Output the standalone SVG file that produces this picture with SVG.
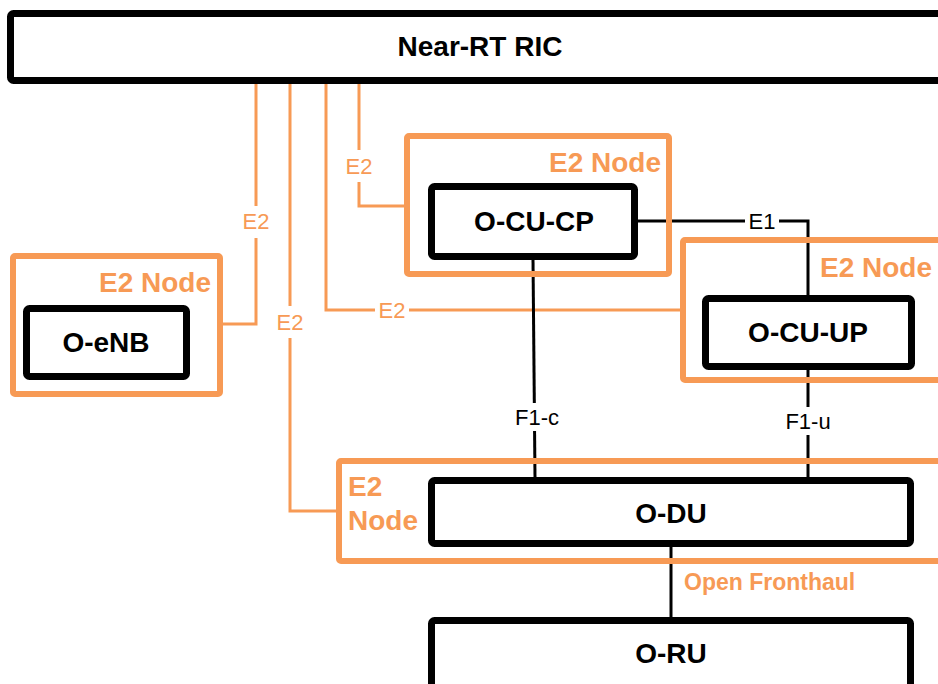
<svg xmlns="http://www.w3.org/2000/svg" width="938" height="684" viewBox="0 0 938 684">
<style>
.blk{fill:#fff;stroke:#000;stroke-width:7}
.org{fill:none;stroke:#F79A55;stroke-width:6}
.ol{fill:none;stroke:#F79A55;stroke-width:3}
.bl{fill:none;stroke:#000;stroke-width:3}
.t{font-family:"Liberation Sans",Arial,sans-serif;font-weight:bold;font-size:28px;fill:#000;text-anchor:middle}
.n{font-family:"Liberation Sans",Arial,sans-serif;font-weight:bold;font-size:28px;fill:#F79A55}
.e{font-family:"Liberation Sans",Arial,sans-serif;font-size:22px;fill:#F79A55;text-anchor:middle}
.k{font-family:"Liberation Sans",Arial,sans-serif;font-size:22px;fill:#000;text-anchor:middle}
.bg{fill:#fff}
</style>
<rect width="938" height="684" fill="#fff"/>
<g id="connectors">
<polyline class="ol" points="256,82 256,324 222,324"/>
<polyline class="ol" points="290,82 290,511 337,511"/>
<polyline class="ol" points="326,82 326,310 683,310"/>
<polyline class="ol" points="359,82 359,206 406,206"/>
<polyline class="bl" points="638,221 808,221 808,295"/>
<line class="bl" x1="533" y1="259" x2="535" y2="478"/>
<line class="bl" x1="808" y1="370" x2="808" y2="478"/>
<line class="bl" x1="671" y1="547" x2="671" y2="617"/>
<rect class="bg" x="240" y="206" width="32" height="32"/>
<text class="e" x="256" y="229">E2</text>
<rect class="bg" x="274" y="306" width="32" height="32"/>
<text class="e" x="290" y="330">E2</text>
<rect class="bg" x="375" y="298" width="34" height="24"/>
<text class="e" x="392" y="318">E2</text>
<rect class="bg" x="343" y="150" width="32" height="32"/>
<text class="e" x="359" y="174">E2</text>
<rect class="bg" x="745" y="210" width="34" height="22"/>
<text class="k" x="762" y="229">E1</text>
<rect class="bg" x="510" y="403" width="54" height="28"/>
<text class="k" x="537" y="425">F1-c</text>
<rect class="bg" x="780" y="407" width="56" height="28"/>
<text class="k" x="808" y="429">F1-u</text>
<text class="n" x="684" y="590" style="font-size:23px">Open Fronthaul</text>
</g>
<g id="ric">
<rect class="blk" x="10.5" y="13.5" width="940" height="67" rx="3"/>
<text class="t" x="480" y="56">Near-RT RIC</text>
</g>
<g id="e2node-enb">
<rect class="org" x="13" y="256" width="207" height="138" rx="2"/>
<text class="n" x="211" y="292" text-anchor="end">E2 Node</text>
</g>
<g id="o-enb">
<rect class="blk" x="26.5" y="308.5" width="160" height="68" rx="3"/>
<text class="t" x="106" y="352">O-eNB</text>
</g>
<g id="e2node-cucp">
<rect class="org" x="407" y="136" width="262" height="138" rx="2"/>
<text class="n" x="661" y="172" text-anchor="end">E2 Node</text>
</g>
<g id="o-cu-cp">
<rect class="blk" x="431.5" y="186.5" width="203" height="70" rx="3"/>
<text class="t" x="534" y="231">O-CU-CP</text>
</g>
<g id="e2node-cuup">
<rect class="org" x="683" y="240" width="270" height="140" rx="2"/>
<text class="n" x="820" y="277">E2 Node</text>
</g>
<g id="o-cu-up">
<rect class="blk" x="705.5" y="298.5" width="206" height="68" rx="3"/>
<text class="t" x="808" y="342">O-CU-UP</text>
</g>
<g id="e2node-du">
<rect class="org" x="339" y="461" width="610" height="100" rx="2"/>
<text class="n" x="348" y="496">E2</text>
<text class="n" x="348" y="530">Node</text>
</g>
<g id="o-du">
<rect class="blk" x="431.5" y="480.5" width="479" height="63" rx="3"/>
<text class="t" x="671" y="523">O-DU</text>
</g>
<g id="o-ru">
<rect class="blk" x="431.5" y="620.5" width="479" height="80" rx="3"/>
<text class="t" x="671" y="663">O-RU</text>
</g>
</svg>
